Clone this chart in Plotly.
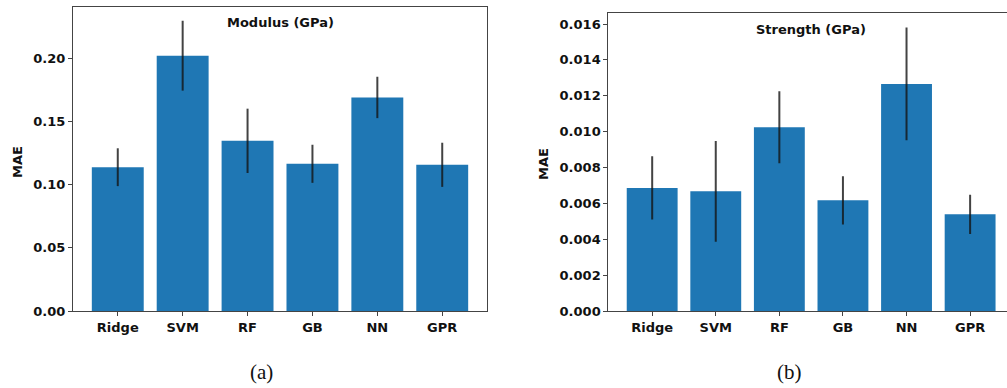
import plotly.graph_objects as go

W, H = 1007, 388
H_EFF = 380  # height the page is actually drawn at in the capture

models = ["Ridge", "SVM", "RF", "GB", "NN", "GPR"]
modulus_mae = [0.114, 0.2024, 0.1349, 0.1167, 0.1693, 0.1159]
modulus_err = [0.015, 0.0277, 0.0255, 0.0151, 0.0164, 0.0175]
strength_mae = [0.00687, 0.00668, 0.01025, 0.00618, 0.01266, 0.0054]
strength_err = [0.00176, 0.0028, 0.002, 0.00134, 0.00314, 0.00109]

BAR = "#1f77b4"
ERR = "rgba(20,20,20,0.8)"
FONT = "DejaVu Sans"
AX = "#444444"


def px_x(p):
    return p / W


def px_y(p):
    return 1 - p / H_EFF


fig = go.Figure()
fig.add_trace(go.Bar(
    x=models, y=modulus_mae, xaxis="x", yaxis="y", width=0.8,
    marker=dict(color=BAR, line=dict(width=0)),
    error_y=dict(type="data", array=modulus_err, color=ERR, thickness=2, width=0),
    showlegend=False,
))
fig.add_trace(go.Bar(
    x=models, y=strength_mae, xaxis="x2", yaxis="y2", width=0.8,
    marker=dict(color=BAR, line=dict(width=0)),
    error_y=dict(type="data", array=strength_err, color=ERR, thickness=2, width=0),
    showlegend=False,
))

tickfont = dict(family=FONT, size=13, color="#111111", weight="bold")
common_x = dict(showline=True, linecolor=AX, linewidth=1, mirror=True, ticks="outside",
                ticklen=4, tickcolor=AX, tickfont=tickfont, showgrid=False, zeroline=False,
                fixedrange=True)
common_y = dict(showline=True, linecolor=AX, linewidth=1, ticks="outside",
                ticklen=4, tickcolor=AX, tickfont=tickfont, showgrid=False, zeroline=False,
                fixedrange=True)

fig.update_layout(
    width=W, height=H,
    margin=dict(l=0, r=0, t=0, b=0),
    paper_bgcolor="white", plot_bgcolor="white",
    bargap=0.2,
    xaxis=dict(domain=[px_x(73), px_x(487)], anchor="y", range=[-0.69, 5.69], **common_x),
    yaxis=dict(domain=[px_y(311), px_y(7)], anchor="x", range=[0, 0.241], dtick=0.05,
               tickformat=".2f", mirror=True, **common_y),
    xaxis2=dict(domain=[px_x(608.3), 1.0], anchor="y2", range=[-0.69, 5.58], **common_x),
    yaxis2=dict(domain=[px_y(311.3), px_y(13.3)], anchor="x2", range=[0, 0.016596], dtick=0.002,
                tickformat=".3f", mirror=False, **common_y),
)

title_font = dict(family=FONT, size=13, color="#111111", weight="bold")
ann = [
    dict(text="Modulus (GPa)", x=px_x(280), y=px_y(23)),
    dict(text="Strength (GPa)", x=px_x(811), y=px_y(29)),
]
for a in ann:
    fig.add_annotation(xref="paper", yref="paper", xanchor="center", yanchor="middle",
                       showarrow=False, font=title_font, **a)

for x, y in [(17, 162), (543, 164)]:
    fig.add_annotation(text="MAE", xref="paper", yref="paper", x=px_x(x), y=px_y(y),
                       xanchor="center", yanchor="middle", textangle=-90, showarrow=False,
                       font=title_font)

cap_font = dict(family="Liberation Serif", size=21, color="#111111")
for txt, x in [("(a)", 261), ("(b)", 789)]:
    fig.add_annotation(text=txt, xref="paper", yref="paper", x=px_x(x), y=px_y(372),
                       xanchor="center", yanchor="middle", showarrow=False, font=cap_font)

fig.write_html("out.html")
